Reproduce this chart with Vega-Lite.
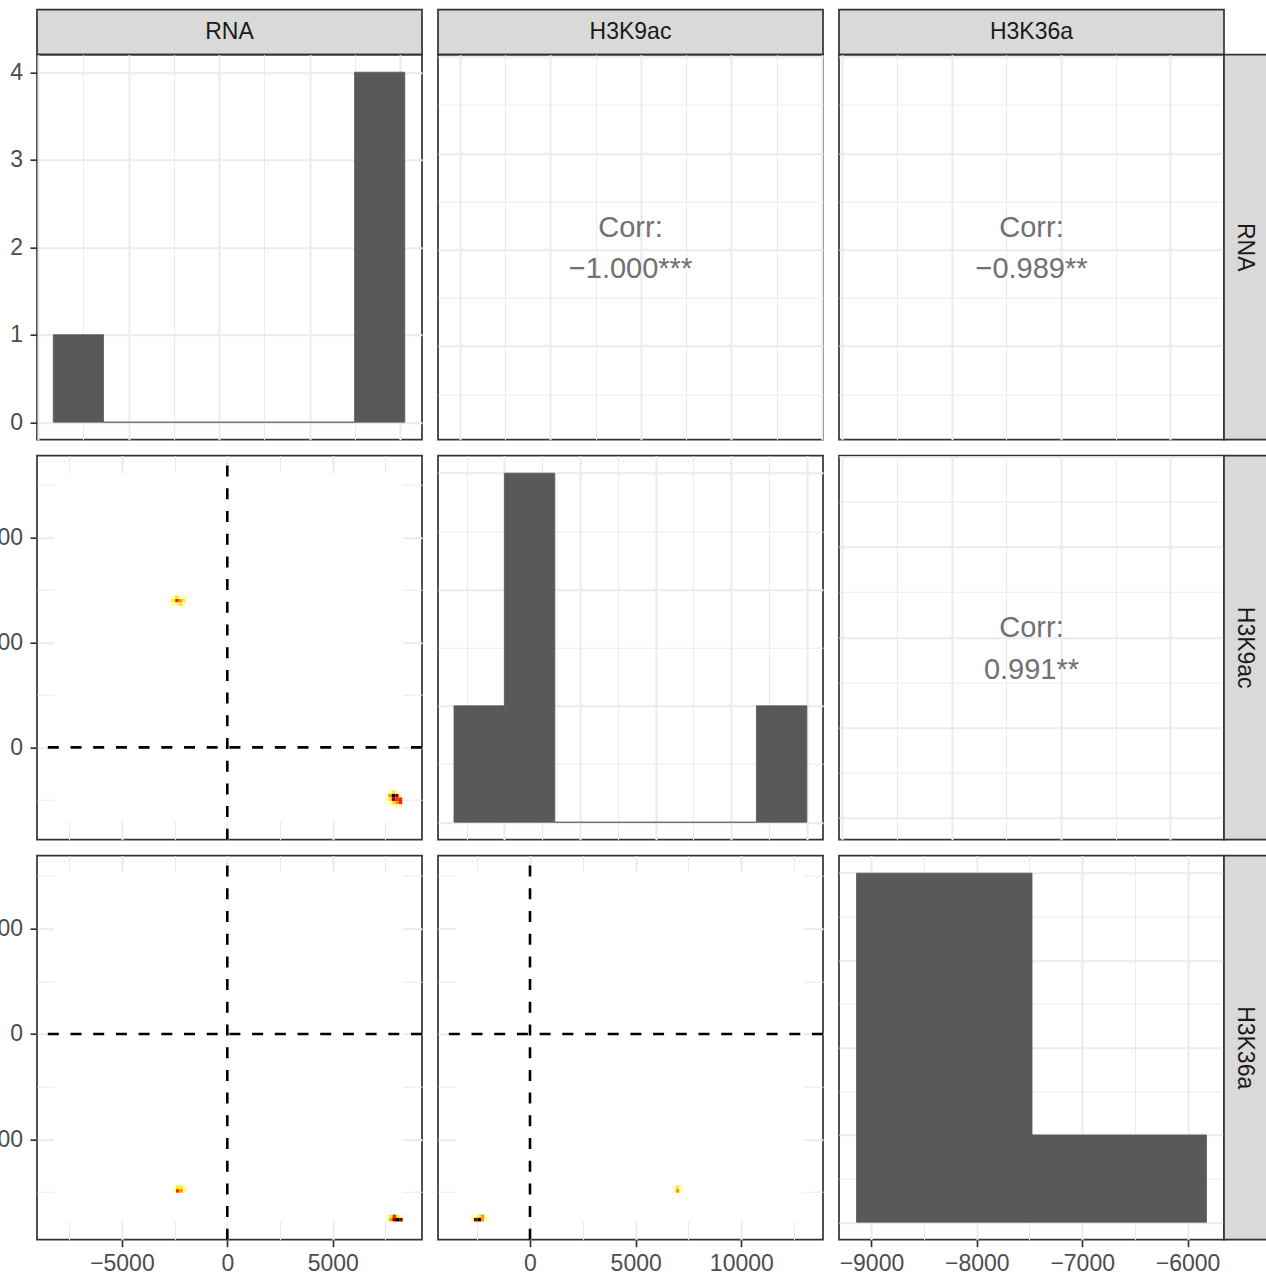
{
  "$schema": "https://vega.github.io/schema/vega-lite/v6.json",
  "padding": {"left": -43, "top": 8.7, "right": 0, "bottom": 0},
  "background": "white",
  "bounds": "flush",
  "spacing": 0,
  "columns": 6,
  "config": {
    "font": "Liberation Sans",
    "view": {"stroke": "#333333", "strokeWidth": 1.7},
    "axis": {"domain": false, "labelFont": "Liberation Sans", "labelFontSize": 23, "labelColor": "#4D4D4D", "tickColor": "#333333", "tickWidth": 1.7, "tickSize": 7, "labelPadding": 7.5, "gridColor": "#EBEBEB", "grid": true, "labelFlush": false, "labelOverlap": false, "labelBound": false},
    "text": {"font": "Liberation Sans"}
  },
  "concat": [
    {"width": 385, "height": 45, "view": {"fill": "#D9D9D9", "stroke": "#333333", "strokeWidth": 1.7}, "data": {"values": [{"label": "RNA"}]}, "mark": {"type": "text", "fontSize": 23, "color": "#1A1A1A", "baseline": "middle", "align": "center"}, "encoding": {"text": {"field": "label"}}},
    {"width": 16, "height": 16, "data": {"values": []}, "mark": "point", "view": {"stroke": null}},
    {"width": 385, "height": 45, "view": {"fill": "#D9D9D9", "stroke": "#333333", "strokeWidth": 1.7}, "data": {"values": [{"label": "H3K9ac"}]}, "mark": {"type": "text", "fontSize": 23, "color": "#1A1A1A", "baseline": "middle", "align": "center"}, "encoding": {"text": {"field": "label"}}},
    {"width": 16, "height": 16, "data": {"values": []}, "mark": "point", "view": {"stroke": null}},
    {"width": 385, "height": 45, "view": {"fill": "#D9D9D9", "stroke": "#333333", "strokeWidth": 1.7}, "data": {"values": [{"label": "H3K36a"}]}, "mark": {"type": "text", "fontSize": 23, "color": "#1A1A1A", "baseline": "middle", "align": "center"}, "encoding": {"text": {"field": "label"}}},
    {"width": 16, "height": 16, "data": {"values": []}, "mark": "point", "view": {"stroke": null}},

    {
      "width": 385, "height": 385,
      "data": {"values": [
        {"x0": -2079, "x1": -693, "count": 1},
        {"x0": -693, "x1": 693, "count": 0},
        {"x0": 693, "x1": 2079, "count": 0},
        {"x0": 2079, "x1": 3465, "count": 0},
        {"x0": 3465, "x1": 4851, "count": 0},
        {"x0": 4851, "x1": 6237, "count": 0},
        {"x0": 6237, "x1": 7623, "count": 4}
      ]},
      "mark": {"type": "rect", "fill": "#595959", "stroke": "#595959", "strokeWidth": 0.8},
      "encoding": {
        "x": {"field": "x0", "type": "quantitative", "title": null, "scale": {"domain": [-2528, 8098], "nice": false, "zero": false}, "axis": {"values": [-2500, -1250, 0, 1250, 2500, 3750, 5000, 6250, 7500], "labels": false, "ticks": false, "gridWidth": {"condition": {"test": "datum.value % 2500 == 0", "value": 2}, "value": 1}}},
        "x2": {"field": "x1"},
        "y": {"field": "count", "type": "quantitative", "title": null, "scale": {"domain": [-0.2, 4.2], "nice": false, "zero": false}, "axis": {"values": [0, 0.5, 1, 1.5, 2, 2.5, 3, 3.5, 4], "format": "d", "labelExpr": "datum.value % 1 == 0 ? datum.label : ''", "tickOpacity": {"condition": {"test": "datum.value % 1 == 0", "value": 1}, "value": 0}, "gridWidth": {"condition": {"test": "datum.value % 1 == 0", "value": 2}, "value": 1}}},
        "y2": {"datum": 0}
      }
    },
    {"width": 16, "height": 16, "data": {"values": []}, "mark": "point", "view": {"stroke": null}},
    {
      "width": 385, "height": 385,
      "data": {"values": [{"l1": "Corr:", "l2": "−1.000***"}]},
      "encoding": {
        "x": {"datum": 2213, "type": "quantitative", "title": null, "scale": {"domain": [-3099, 7525], "nice": false, "zero": false}, "axis": {"values": [-2500, -1250, 0, 1250, 2500, 3750, 5000, 6250, 7500], "labels": false, "ticks": false, "gridWidth": {"condition": {"test": "datum.value % 2500 == 0", "value": 2}, "value": 1}}},
        "y": {"datum": 2563, "type": "quantitative", "title": null, "scale": {"domain": [-2430, 7556], "nice": false, "zero": false}, "axis": {"values": [-1250, 0, 1250, 2500, 3750, 5000, 6250, 7500], "labels": false, "ticks": false, "gridWidth": {"condition": {"test": "datum.value % 2500 == 0", "value": 2}, "value": 1}}}
      },
      "layer": [
        {"mark": {"type": "text", "fontSize": 29, "color": "#717171", "baseline": "alphabetic", "align": "center", "dy": -10.3}, "encoding": {"text": {"field": "l1"}}},
        {"mark": {"type": "text", "fontSize": 29, "color": "#717171", "baseline": "alphabetic", "align": "center", "dy": 31.3}, "encoding": {"text": {"field": "l2"}}}
      ]
    },
    {"width": 16, "height": 16, "data": {"values": []}, "mark": "point", "view": {"stroke": null}},
    {
      "width": 385, "height": 385,
      "data": {"values": [{"l1": "Corr:", "l2": "−0.989**"}]},
      "encoding": {
        "x": {"datum": -8135, "type": "quantitative", "title": null, "scale": {"domain": [-9015, -7255], "nice": false, "zero": false}, "axis": {"values": [-9000, -8750, -8500, -8250, -8000, -7750, -7500], "labels": false, "ticks": false, "gridWidth": {"condition": {"test": "datum.value % 500 == 0", "value": 2}, "value": 1}}},
        "y": {"datum": 2563, "type": "quantitative", "title": null, "scale": {"domain": [-2430, 7556], "nice": false, "zero": false}, "axis": {"values": [-1250, 0, 1250, 2500, 3750, 5000, 6250, 7500], "labels": false, "ticks": false, "gridWidth": {"condition": {"test": "datum.value % 2500 == 0", "value": 2}, "value": 1}}}
      },
      "layer": [
        {"mark": {"type": "text", "fontSize": 29, "color": "#717171", "baseline": "alphabetic", "align": "center", "dy": -10.3}, "encoding": {"text": {"field": "l1"}}},
        {"mark": {"type": "text", "fontSize": 29, "color": "#717171", "baseline": "alphabetic", "align": "center", "dy": 31.3}, "encoding": {"text": {"field": "l2"}}}
      ]
    },
    {"width": 43, "height": 385, "view": {"fill": "#D9D9D9", "stroke": "#333333", "strokeWidth": 1.7}, "data": {"values": [{"label": "RNA"}]}, "mark": {"type": "text", "fontSize": 23, "color": "#1A1A1A", "baseline": "middle", "align": "center", "angle": 90}, "encoding": {"text": {"field": "label"}}},

    {"width": 16, "height": 16, "data": {"values": []}, "mark": "point", "view": {"stroke": null}},
    {"width": 16, "height": 16, "data": {"values": []}, "mark": "point", "view": {"stroke": null}},
    {"width": 16, "height": 16, "data": {"values": []}, "mark": "point", "view": {"stroke": null}},
    {"width": 16, "height": 16, "data": {"values": []}, "mark": "point", "view": {"stroke": null}},
    {"width": 16, "height": 16, "data": {"values": []}, "mark": "point", "view": {"stroke": null}},
    {"width": 16, "height": 16, "data": {"values": []}, "mark": "point", "view": {"stroke": null}},

    {
      "width": 385, "height": 384,
      "layer": [
        {
          "data": {"values": [{"x0": -8221, "x1": 8336, "y0": -3538, "y1": 13034}]},
          "mark": {"type": "rect", "fill": "white"},
          "encoding": {
            "x": {"field": "x0", "type": "quantitative", "title": null, "scale": {"domain": [-9028, 9237], "nice": false, "zero": false}, "axis": {"values": [-7500, -5000, -2500, 0, 2500, 5000, 7500], "labels": false, "ticks": false, "gridWidth": {"condition": {"test": "datum.value % 5000 == 0", "value": 2}, "value": 1}}},
            "x2": {"field": "x1"},
            "y": {"field": "y0", "type": "quantitative", "title": null, "scale": {"domain": [-4395, 13891], "nice": false, "zero": false}, "axis": {"values": [-2500, 0, 2500, 5000, 7500, 10000, 12500], "format": "d", "labelExpr": "datum.value % 5000 == 0 ? datum.label : ''", "tickOpacity": {"condition": {"test": "datum.value % 5000 == 0", "value": 1}, "value": 0}, "gridWidth": {"condition": {"test": "datum.value % 5000 == 0", "value": 2}, "value": 1}}},
            "y2": {"field": "y1"}
          }
        },
        {
          "data": {"values": [
            {"x": -2718, "y": 6986, "level": 1}, {"x": -2552, "y": 6986, "level": 2}, {"x": -2386, "y": 6986, "level": 4}, {"x": -2220, "y": 6986, "level": 3}, {"x": -2054, "y": 6986, "level": 2},
            {"x": -2552, "y": 7153, "level": 1}, {"x": -2386, "y": 7153, "level": 2}, {"x": -2220, "y": 7153, "level": 1}, {"x": -2054, "y": 7153, "level": 1},
            {"x": -2552, "y": 6819, "level": 1}, {"x": -2386, "y": 6819, "level": 1}, {"x": -2220, "y": 6819, "level": 2}, {"x": -2054, "y": 6819, "level": 1},
            {"x": 7719, "y": -2133, "level": 1}, {"x": 7885, "y": -2133, "level": 2}, {"x": 8051, "y": -2133, "level": 1},
            {"x": 7552, "y": -2300, "level": 1}, {"x": 7719, "y": -2300, "level": 3}, {"x": 7885, "y": -2300, "level": 6}, {"x": 8051, "y": -2300, "level": 5}, {"x": 8217, "y": -2300, "level": 1},
            {"x": 7552, "y": -2467, "level": 1}, {"x": 7719, "y": -2467, "level": 2}, {"x": 7885, "y": -2467, "level": 5}, {"x": 8051, "y": -2467, "level": 4}, {"x": 8217, "y": -2467, "level": 4},
            {"x": 7719, "y": -2633, "level": 1}, {"x": 7885, "y": -2633, "level": 2}, {"x": 8051, "y": -2633, "level": 3}, {"x": 8217, "y": -2633, "level": 4},
            {"x": 8051, "y": -2800, "level": 1}, {"x": 8217, "y": -2800, "level": 1}
          ]},
          "mark": {"type": "square", "size": 12.5, "opacity": 1},
          "encoding": {
            "x": {"field": "x", "type": "quantitative"},
            "y": {"field": "y", "type": "quantitative"},
            "color": {"field": "level", "type": "ordinal", "legend": null, "scale": {"domain": [1, 2, 3, 4, 5, 6], "range": ["#FFFFB3", "#FFEE00", "#FF9900", "#FF2200", "#8B0000", "#000000"]}}
          }
        },
        {"data": {"values": [{"ref": 0}]}, "mark": {"type": "rule", "color": "black", "strokeWidth": 2.6, "strokeDash": [11, 11.7], "strokeDashOffset": 12.8}, "encoding": {"x": {"field": "ref", "type": "quantitative"}}},
        {"data": {"values": [{"ref": 0}]}, "mark": {"type": "rule", "color": "black", "strokeWidth": 2.6, "strokeDash": [11, 11.7]}, "encoding": {"y": {"field": "ref", "type": "quantitative"}}}
      ]
    },
    {"width": 16, "height": 16, "data": {"values": []}, "mark": "point", "view": {"stroke": null}},
    {
      "width": 385, "height": 384,
      "data": {"values": [
        {"x0": -4170, "x1": -2502, "count": 1},
        {"x0": -2502, "x1": -834, "count": 3},
        {"x0": -834, "x1": 834, "count": 0},
        {"x0": 834, "x1": 2502, "count": 0},
        {"x0": 2502, "x1": 4170, "count": 0},
        {"x0": 4170, "x1": 5838, "count": 0},
        {"x0": 5838, "x1": 7506, "count": 1}
      ]},
      "mark": {"type": "rect", "fill": "#595959", "stroke": "#595959", "strokeWidth": 0.8},
      "encoding": {
        "x": {"field": "x0", "type": "quantitative", "title": null, "scale": {"domain": [-4699, 8041], "nice": false, "zero": false}, "axis": {"values": [-3750, -2500, -1250, 0, 1250, 2500, 3750, 5000, 6250, 7500], "labels": false, "ticks": false, "gridWidth": {"condition": {"test": "datum.value % 2500 == 0", "value": 2}, "value": 1}}},
        "x2": {"field": "x1"},
        "y": {"field": "count", "type": "quantitative", "title": null, "scale": {"domain": [-0.15, 3.15], "nice": false, "zero": false}, "axis": {"values": [0, 0.5, 1, 1.5, 2, 2.5, 3], "labels": false, "ticks": false, "gridWidth": {"condition": {"test": "datum.value % 1 == 0", "value": 2}, "value": 1}}},
        "y2": {"datum": 0}
      }
    },
    {"width": 16, "height": 16, "data": {"values": []}, "mark": "point", "view": {"stroke": null}},
    {
      "width": 385, "height": 384,
      "data": {"values": [{"l1": "Corr:", "l2": "0.991**"}]},
      "encoding": {
        "x": {"datum": -8135, "type": "quantitative", "title": null, "scale": {"domain": [-9015, -7255], "nice": false, "zero": false}, "axis": {"values": [-9000, -8750, -8500, -8250, -8000, -7750, -7500], "labels": false, "ticks": false, "gridWidth": {"condition": {"test": "datum.value % 500 == 0", "value": 2}, "value": 1}}},
        "y": {"datum": 2213, "type": "quantitative", "title": null, "scale": {"domain": [-3099, 7525], "nice": false, "zero": false}, "axis": {"values": [-2500, -1250, 0, 1250, 2500, 3750, 5000, 6250, 7500], "labels": false, "ticks": false, "gridWidth": {"condition": {"test": "datum.value % 2500 == 0", "value": 2}, "value": 1}}}
      },
      "layer": [
        {"mark": {"type": "text", "fontSize": 29, "color": "#717171", "baseline": "alphabetic", "align": "center", "dy": -10.3}, "encoding": {"text": {"field": "l1"}}},
        {"mark": {"type": "text", "fontSize": 29, "color": "#717171", "baseline": "alphabetic", "align": "center", "dy": 31.3}, "encoding": {"text": {"field": "l2"}}}
      ]
    },
    {"width": 43, "height": 384, "view": {"fill": "#D9D9D9", "stroke": "#333333", "strokeWidth": 1.7}, "data": {"values": [{"label": "H3K9ac"}]}, "mark": {"type": "text", "fontSize": 23, "color": "#1A1A1A", "baseline": "middle", "align": "center", "angle": 90}, "encoding": {"text": {"field": "label"}}},

    {"width": 16, "height": 16, "data": {"values": []}, "mark": "point", "view": {"stroke": null}},
    {"width": 16, "height": 16, "data": {"values": []}, "mark": "point", "view": {"stroke": null}},
    {"width": 16, "height": 16, "data": {"values": []}, "mark": "point", "view": {"stroke": null}},
    {"width": 16, "height": 16, "data": {"values": []}, "mark": "point", "view": {"stroke": null}},
    {"width": 16, "height": 16, "data": {"values": []}, "mark": "point", "view": {"stroke": null}},
    {"width": 16, "height": 16, "data": {"values": []}, "mark": "point", "view": {"stroke": null}},

    {
      "width": 385, "height": 384,
      "layer": [
        {
          "data": {"values": [{"x0": -8221, "x1": 8336, "y0": -8908, "y1": 7655}]},
          "mark": {"type": "rect", "fill": "white"},
          "encoding": {
            "x": {"field": "x0", "type": "quantitative", "title": null, "scale": {"domain": [-9028, 9237], "nice": false, "zero": false}, "axis": {"values": [-7500, -5000, -2500, 0, 2500, 5000, 7500], "format": "d", "labelPadding": 5.5, "labelExpr": "datum.value % 5000 == 0 ? datum.label : ''", "tickOpacity": {"condition": {"test": "datum.value % 5000 == 0", "value": 1}, "value": 0}, "gridWidth": {"condition": {"test": "datum.value % 5000 == 0", "value": 2}, "value": 1}}},
            "x2": {"field": "x1"},
            "y": {"field": "y0", "type": "quantitative", "title": null, "scale": {"domain": [-9763, 8462], "nice": false, "zero": false}, "axis": {"values": [-7500, -5000, -2500, 0, 2500, 5000, 7500], "format": "d", "labelExpr": "datum.value % 5000 == 0 ? datum.label : ''", "tickOpacity": {"condition": {"test": "datum.value % 5000 == 0", "value": 1}, "value": 0}, "gridWidth": {"condition": {"test": "datum.value % 5000 == 0", "value": 2}, "value": 1}}},
            "y2": {"field": "y1"}
          }
        },
        {
          "data": {"values": [
            {"x": -2519, "y": -7280, "level": 1}, {"x": -2353, "y": -7280, "level": 2}, {"x": -2187, "y": -7280, "level": 2}, {"x": -2021, "y": -7280, "level": 1},
            {"x": -2519, "y": -7446, "level": 1}, {"x": -2353, "y": -7446, "level": 4}, {"x": -2187, "y": -7446, "level": 3}, {"x": -2021, "y": -7446, "level": 1},
            {"x": 7590, "y": -8657, "level": 1}, {"x": 7766, "y": -8657, "level": 2}, {"x": 7922, "y": -8657, "level": 4}, {"x": 8084, "y": -8657, "level": 2}, {"x": 8240, "y": -8657, "level": 1},
            {"x": 7590, "y": -8813, "level": 1}, {"x": 7766, "y": -8813, "level": 3}, {"x": 7922, "y": -8813, "level": 5}, {"x": 8084, "y": -8813, "level": 6}, {"x": 8240, "y": -8813, "level": 5}
          ]},
          "mark": {"type": "square", "size": 12.5, "opacity": 1},
          "encoding": {
            "x": {"field": "x", "type": "quantitative"},
            "y": {"field": "y", "type": "quantitative"},
            "color": {"field": "level", "type": "ordinal", "legend": null, "scale": {"domain": [1, 2, 3, 4, 5, 6], "range": ["#FFFFB3", "#FFEE00", "#FF9900", "#FF2200", "#8B0000", "#000000"]}}
          }
        },
        {"data": {"values": [{"ref": 0}]}, "mark": {"type": "rule", "color": "black", "strokeWidth": 2.6, "strokeDash": [11, 11.7], "strokeDashOffset": 12.8}, "encoding": {"x": {"field": "ref", "type": "quantitative"}}},
        {"data": {"values": [{"ref": 0}]}, "mark": {"type": "rule", "color": "black", "strokeWidth": 2.6, "strokeDash": [11, 11.7]}, "encoding": {"y": {"field": "ref", "type": "quantitative"}}}
      ]
    },
    {"width": 16, "height": 16, "data": {"values": []}, "mark": "point", "view": {"stroke": null}},
    {
      "width": 385, "height": 384,
      "layer": [
        {
          "data": {"values": [{"x0": -3502, "x1": 12966, "y0": -8908, "y1": 7655}]},
          "mark": {"type": "rect", "fill": "white"},
          "encoding": {
            "x": {"field": "x0", "type": "quantitative", "title": null, "scale": {"domain": [-4353, 13865], "nice": false, "zero": false}, "axis": {"values": [-2500, 0, 2500, 5000, 7500, 10000, 12500], "format": "d", "labelPadding": 5.5, "labelExpr": "datum.value % 5000 == 0 ? datum.label : ''", "tickOpacity": {"condition": {"test": "datum.value % 5000 == 0", "value": 1}, "value": 0}, "gridWidth": {"condition": {"test": "datum.value % 5000 == 0", "value": 2}, "value": 1}}},
            "x2": {"field": "x1"},
            "y": {"field": "y0", "type": "quantitative", "title": null, "scale": {"domain": [-9763, 8462], "nice": false, "zero": false}, "axis": {"values": [-7500, -5000, -2500, 0, 2500, 5000, 7500], "labels": false, "ticks": false, "gridWidth": {"condition": {"test": "datum.value % 5000 == 0", "value": 2}, "value": 1}}},
            "y2": {"field": "y1"}
          }
        },
        {
          "data": {"values": [
            {"x": -2745, "y": -8657, "level": 1}, {"x": -2569, "y": -8657, "level": 1}, {"x": -2399, "y": -8657, "level": 2}, {"x": -2238, "y": -8657, "level": 3}, {"x": -2082, "y": -8657, "level": 1},
            {"x": -2745, "y": -8813, "level": 1}, {"x": -2569, "y": -8813, "level": 5}, {"x": -2399, "y": -8813, "level": 6}, {"x": -2238, "y": -8813, "level": 3}, {"x": -2082, "y": -8813, "level": 1},
            {"x": 6824, "y": -7280, "level": 1}, {"x": 6989, "y": -7280, "level": 2}, {"x": 7155, "y": -7280, "level": 1},
            {"x": 6824, "y": -7446, "level": 1}, {"x": 6989, "y": -7446, "level": 3}, {"x": 7155, "y": -7446, "level": 1}
          ]},
          "mark": {"type": "square", "size": 12.5, "opacity": 1},
          "encoding": {
            "x": {"field": "x", "type": "quantitative"},
            "y": {"field": "y", "type": "quantitative"},
            "color": {"field": "level", "type": "ordinal", "legend": null, "scale": {"domain": [1, 2, 3, 4, 5, 6], "range": ["#FFFFB3", "#FFEE00", "#FF9900", "#FF2200", "#8B0000", "#000000"]}}
          }
        },
        {"data": {"values": [{"ref": 0}]}, "mark": {"type": "rule", "color": "black", "strokeWidth": 2.6, "strokeDash": [11, 11.7], "strokeDashOffset": 12.8}, "encoding": {"x": {"field": "ref", "type": "quantitative"}}},
        {"data": {"values": [{"ref": 0}]}, "mark": {"type": "rule", "color": "black", "strokeWidth": 2.6, "strokeDash": [11, 11.7]}, "encoding": {"y": {"field": "ref", "type": "quantitative"}}}
      ]
    },
    {"width": 16, "height": 16, "data": {"values": []}, "mark": "point", "view": {"stroke": null}},
    {
      "width": 385, "height": 384,
      "data": {"values": [
        {"x0": -9142, "x1": -7476, "count": 4},
        {"x0": -7476, "x1": -5820, "count": 1}
      ]},
      "mark": {"type": "rect", "fill": "#595959", "stroke": "#595959", "strokeWidth": 0.8},
      "encoding": {
        "x": {"field": "x0", "type": "quantitative", "title": null, "scale": {"domain": [-9308, -5654], "nice": false, "zero": false}, "axis": {"values": [-9000, -8500, -8000, -7500, -7000, -6500, -6000], "format": "d", "labelPadding": 5.5, "labelExpr": "datum.value % 1000 == 0 ? datum.label : ''", "tickOpacity": {"condition": {"test": "datum.value % 1000 == 0", "value": 1}, "value": 0}, "gridWidth": {"condition": {"test": "datum.value % 1000 == 0", "value": 2}, "value": 1}}},
        "x2": {"field": "x1"},
        "y": {"field": "count", "type": "quantitative", "title": null, "scale": {"domain": [-0.2, 4.2], "nice": false, "zero": false}, "axis": {"values": [0, 0.5, 1, 1.5, 2, 2.5, 3, 3.5, 4], "labels": false, "ticks": false, "gridWidth": {"condition": {"test": "datum.value % 1 == 0", "value": 2}, "value": 1}}},
        "y2": {"datum": 0}
      }
    },
    {"width": 43, "height": 384, "view": {"fill": "#D9D9D9", "stroke": "#333333", "strokeWidth": 1.7}, "data": {"values": [{"label": "H3K36a"}]}, "mark": {"type": "text", "fontSize": 23, "color": "#1A1A1A", "baseline": "middle", "align": "center", "angle": 90}, "encoding": {"text": {"field": "label"}}}
  ]
}
